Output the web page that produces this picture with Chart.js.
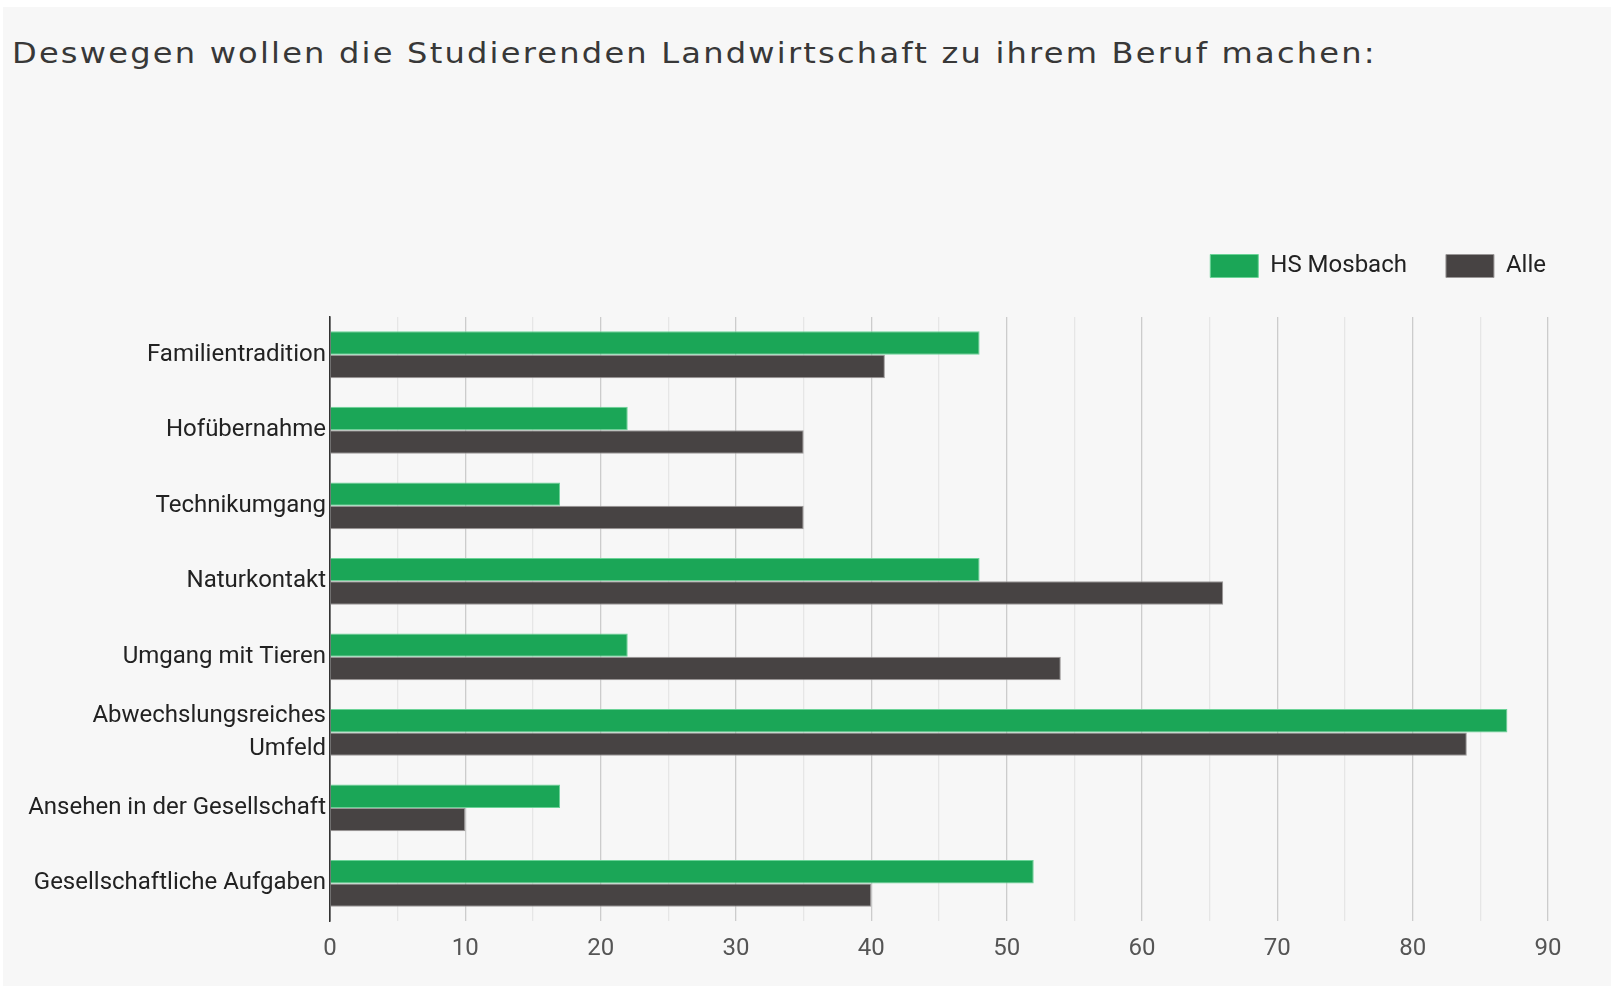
<!DOCTYPE html>
<html>
<head>
<meta charset="utf-8">
<script src="https://cdn.jsdelivr.net/npm/chart.js@4"></script>
<style>
  html, body { margin: 0; padding: 0; background: #fff; }
  #panel { position: absolute; left: 3px; top: 7px; width: 1608px; height: 979px; background: #f7f7f7; }
  #title {
    position: absolute; left: 12px; top: 36px; margin: 0;
    font: normal 29px/34px "DejaVu Sans", sans-serif; letter-spacing: 2px;
    color: #383838; white-space: nowrap;
    transform: scaleX(1.106); transform-origin: 0 0;
  }
  #chartbox { position: absolute; left: 3px; top: 7px; width: 1608px; height: 979px; }
</style>
</head>
<body>
<div id="panel"></div>
<h1 id="title">Deswegen wollen die Studierenden Landwirtschaft zu ihrem Beruf machen:</h1>
<div id="chartbox"><canvas id="out"></canvas></div>
<script>
const categories = [
  "Familientradition",
  "Hofübernahme",
  "Technikumgang",
  "Naturkontakt",
  "Umgang mit Tieren",
  ["Abwechslungsreiches", "Umfeld"],
  "Ansehen in der Gesellschaft",
  "Gesellschaftliche Aufgaben"
];
const hsMosbach = [48, 22, 17, 48, 22, 87, 17, 52];
const alle = [41, 35, 35, 66, 54, 84, 10, 40];
const xMax = 90;

const canvasCtx = document.getElementById("out").getContext("2d");

const chartConfig = {
  type: "bar",
  data: {
    labels: categories,
    datasets: [
      {
        label: "HS Mosbach",
        data: hsMosbach,
        backgroundColor: "#1ba657",
        borderColor: "#6bd397",
        borderWidth: 1
      },
      {
        label: "Alle",
        data: alle,
        backgroundColor: "#474343",
        borderColor: "#9a9797",
        borderWidth: 1
      }
    ]
  },
  options: {
    indexAxis: "y",
    responsive: true,
    maintainAspectRatio: false,
    animation: false,
    layout: { padding: { left: 10, right: 26, top: 208, bottom: 10 } },
    datasets: {
      bar: { categoryPercentage: 0.62, barPercentage: 1 }
    },
    plugins: {
      title: { display: false },
      // empty subtitle only keeps some room between legend and bars
      subtitle: {
        display: true,
        text: "",
        font: { size: 1, lineHeight: 1 },
        padding: { top: 0, bottom: 28 }
      },
      legend: {
        position: "top",
        align: "end",
        weight: 1600,
        labels: {
          boxWidth: 48,
          boxHeight: 23,
          padding: 39,
          color: "#222",
          font: { family: "Roboto", size: 24 }
        }
      },
      tooltip: { enabled: false }
    },
    scales: {
      x: {
        min: 0,
        max: xMax,
        ticks: {
          stepSize: 5,
          color: "#555",
          padding: 13,
          font: { family: "Roboto", size: 24 },
          callback: v => (v % 10 === 0 ? v : "")
        },
        grid: {
          drawTicks: false,
          lineWidth: 1.3,
          color: c => {
            const v = c.tick ? c.tick.value : 0;
            if (v === 0) return "#333";
            return v % 10 === 0 ? "#cccccc" : "#e6e6e6";
          }
        },
        border: { display: false }
      },
      y: {
        afterFit: s => { s.width = 317; },
        ticks: {
          color: "#222",
          padding: 4,
          font: { family: "Roboto", size: 24, lineHeight: 1.35 }
        },
        grid: { display: false, drawTicks: false },
        border: { display: true, color: "#333", width: 1.5 }
      },
      // blank axis on the right so the legend can reach past the plot
      y2: {
        type: "category",
        position: "right",
        afterFit: s => { s.width = 37; },
        ticks: { display: false },
        grid: { display: false, drawTicks: false },
        border: { display: false }
      }
    }
  }
};

window.chart = new Chart(canvasCtx, chartConfig);
</script>
</body>
</html>
